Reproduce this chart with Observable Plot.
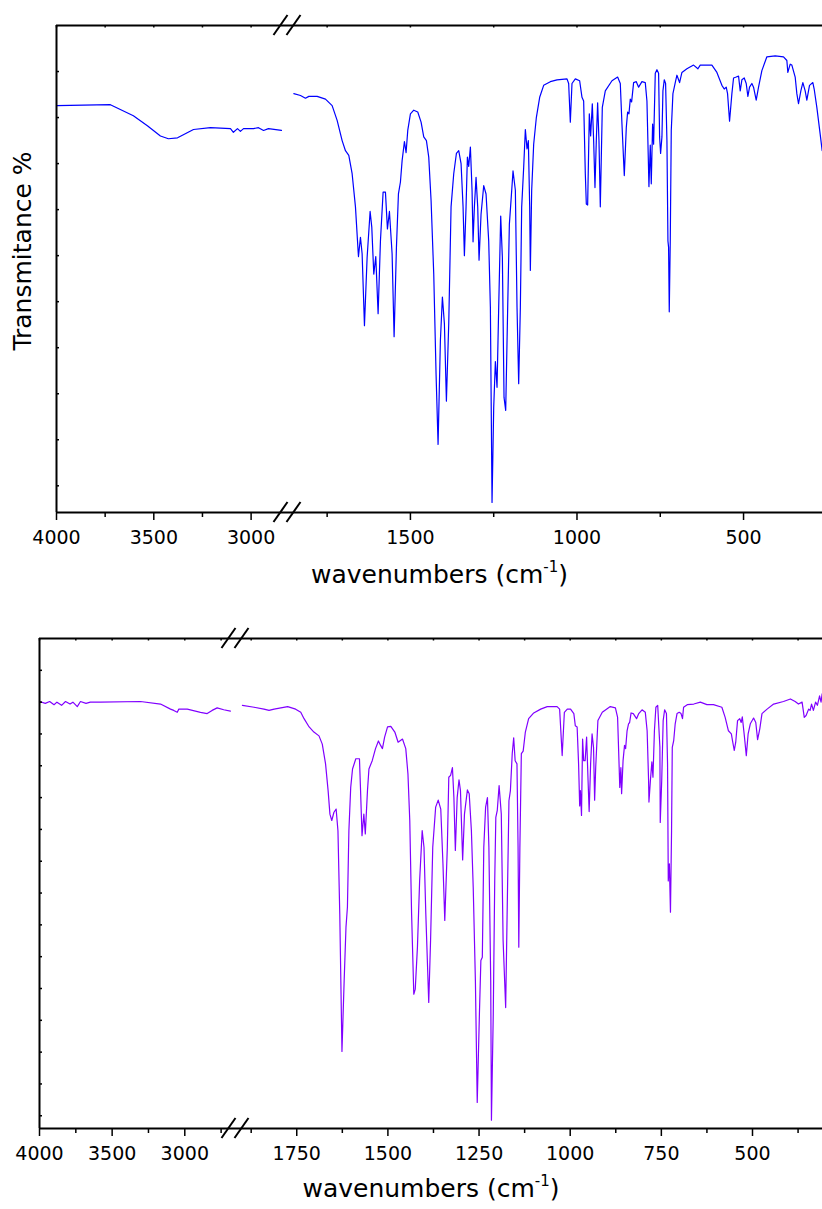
<!DOCTYPE html>
<html><head><meta charset="utf-8">
<script src="https://cdn.jsdelivr.net/npm/d3@7"></script>
<script src="https://cdn.jsdelivr.net/npm/@observablehq/plot@0.6"></script>
<style>body{margin:0;background:#fff;} svg{display:block}</style>
</head><body><div id="chart"></div>
<script>
// ---------- text ----------
const xTitleMain = "wavenumbers (cm";
const xTitleSup = "-1";
const xTitleEnd = ")";
const yTitle = "Transmitance %";

// ---------- tick values ----------
const topMajorTicks = [4000, 3500, 3000, 1500, 1000, 500];
const topMinorTicks = [3750, 3250, 1750, 1250, 750];
const topYTicks = [10, 15, 20, 25, 30, 35, 40, 45, 50, 55];
const botMajorTicks = [4000, 3500, 3000, 1750, 1500, 1250, 1000, 750, 500];
const botMinorTicks = [3750, 3250, 2750, 1875, 1625, 1375, 1125, 875, 625, 375];
const botYTicks = [5,10,15,20,25,30,35,40,45,50,55,60,65,70,75];

// ---------- broken x axes: [start, end of left part, start of right part, end] ----------
const topXBreaks = [4000, 2813, 1869, 263];
const botXBreaks = [4000, 2651, 1918, 308];
const topYDomain = [7.1, 60];
const botYDomain = [3, 80];

// ---------- spectrum 1 (top) [wavenumber, transmittance] ----------
const topLeft = [[4000,51.3],[3723,51.4],[3605,50.2],[3533,49.1],[3466,48.0],[3425,47.7],[3378,47.8],[3296,48.7],[3209,48.9],[3106,48.8],[3091,48.4],[3070,48.8],[3055,48.5],[3039,48.8],[2988,48.8],[2962,48.9],[2936,48.6],[2911,48.8],[2844,48.6]];
const topRight = [[1850,52.6],[1830,52.4],[1815,52.1],[1805,52.3],[1780,52.3],[1755,52.0],[1735,51.3],[1720,49.7],[1705,47.5],[1695,46.4],[1685,45.9],[1675,43.9],[1665,40.3],[1656,34.9],[1650,37.0],[1645,35.2],[1638,27.4],[1630,34.8],[1621,39.8],[1616,38.1],[1610,33.0],[1604,34.9],[1597,28.7],[1590,36.6],[1582,41.9],[1575,41.9],[1569,37.9],[1563,39.8],[1555,35.2],[1549,26.2],[1542,35.9],[1536,41.7],[1530,43.0],[1525,45.3],[1518,47.4],[1513,46.2],[1508,48.6],[1500,50.4],[1490,50.8],[1478,50.6],[1468,49.5],[1460,47.9],[1452,47.5],[1445,45.7],[1438,41.0],[1430,33.0],[1423,22.1],[1417,14.5],[1410,25.8],[1404,30.5],[1398,27.6],[1392,19.2],[1385,27.6],[1378,40.3],[1370,43.9],[1362,46.1],[1355,46.4],[1348,45.0],[1342,40.3],[1338,35.0],[1333,40.3],[1329,45.7],[1325,44.7],[1320,46.8],[1315,42.1],[1312,36.5],[1308,40.3],[1303,43.5],[1298,40.3],[1294,34.5],[1288,39.5],[1280,42.6],[1273,41.7],[1265,36.6],[1260,29.4],[1255,8.2],[1250,18.5],[1245,23.5],[1240,20.7],[1235,29.4],[1229,39.3],[1224,34.8],[1219,19.6],[1214,18.2],[1208,29.4],[1203,38.4],[1198,41.0],[1192,44.2],[1185,42.1],[1180,29.4],[1175,21.1],[1170,29.4],[1166,40.3],[1160,44.6],[1155,48.7],[1150,46.6],[1146,47.5],[1142,40.3],[1140,33.4],[1136,42.1],[1130,47.1],[1122,50.0],[1112,52.2],[1100,53.5],[1080,53.9],[1060,54.1],[1030,54.2],[1025,53.7],[1020,49.5],[1015,53.7],[1005,54.2],[992,54.0],[985,52.2],[980,51.8],[975,43.9],[972,40.6],[968,40.5],[963,50.4],[959,48.0],[954,51.5],[950,47.5],[946,42.4],[942,47.5],[938,51.6],[934,47.5],[930,40.3],[924,51.1],[915,52.9],[895,54.0],[878,54.4],[870,53.7],[865,49.3],[858,43.7],[852,48.9],[848,50.6],[844,50.4],[840,52.0],[836,51.7],[830,53.8],[822,53.9],[815,53.3],[805,53.9],[795,53.8],[790,51.8],[786,45.7],[784,42.5],[780,47.0],[777,42.8],[773,49.3],[770,47.1],[765,54.8],[760,55.2],[755,54.8],[752,47.9],[749,46.1],[745,47.9],[742,52.9],[738,54.1],[734,53.7],[730,47.5],[727,36.6],[725,35.9],[723,28.9],[720,36.6],[717,48.6],[712,52.6],[705,53.8],[700,54.6],[692,53.8],[685,54.9],[670,55.3],[650,55.7],[637,55.3],[630,55.7],[595,55.7],[580,54.9],[565,53.5],[558,53.1],[552,53.3],[548,52.6],[542,49.6],[535,52.6],[530,54.3],[522,54.4],[515,54.5],[510,52.9],[505,54.1],[498,54.3],[492,53.7],[487,52.3],[482,53.3],[475,53.7],[470,53.3],[462,51.9],[455,53.3],[445,55.1],[430,56.6],[405,56.7],[380,56.6],[370,56.2],[367,54.9],[360,55.8],[355,55.7],[345,54.4],[340,52.6],[335,51.5],[328,52.9],[322,53.8],[315,52.9],[310,51.9],[302,53.5],[292,53.8],[288,53.1],[280,51.1],[270,48.2],[264,46.4]];

// ---------- spectrum 2 (bottom) ----------
const botLeft = [[4000,70.1],[3960,69.8],[3930,70.1],[3900,69.6],[3880,70.0],[3848,69.5],[3821,70.1],[3790,69.7],[3770,70.0],[3740,69.3],[3718,70.1],[3680,69.8],[3650,70.0],[3580,70.0],[3305,70.1],[3167,69.7],[3098,68.9],[3076,68.7],[3052,68.4],[3041,68.9],[2983,68.9],[2892,68.4],[2846,68.2],[2812,68.7],[2777,69.1],[2732,68.8],[2686,68.6]];
const botRight = [[1899,69.5],[1867,69.2],[1840,68.9],[1826,68.7],[1812,68.9],[1775,69.3],[1753,68.9],[1739,68.4],[1730,67.4],[1716,66.1],[1703,65.3],[1689,64.7],[1680,63.4],[1671,60.3],[1664,56.1],[1659,52.4],[1654,51.4],[1648,52.7],[1642,53.2],[1637,49.8],[1632,36.7],[1626,15.1],[1620,26.2],[1615,34.6],[1611,37.8],[1607,49.8],[1602,56.6],[1597,59.5],[1588,61.1],[1578,61.1],[1575,56.1],[1571,49.0],[1566,52.4],[1562,49.3],[1556,56.1],[1552,59.5],[1543,60.8],[1534,62.7],[1526,63.9],[1520,63.2],[1515,62.7],[1509,64.5],[1501,66.1],[1492,66.2],[1481,65.3],[1472,63.7],[1460,64.2],[1451,62.7],[1445,58.7],[1440,51.4],[1435,36.7],[1429,24.1],[1425,24.9],[1419,31.5],[1413,41.9],[1406,49.8],[1401,47.2],[1396,36.7],[1388,22.8],[1383,32.5],[1377,47.2],[1369,53.5],[1362,54.6],[1355,53.2],[1349,44.6],[1344,35.7],[1337,47.2],[1333,58.2],[1328,58.5],[1323,59.7],[1319,55.0],[1315,46.7],[1310,55.0],[1305,57.8],[1301,56.1],[1295,45.2],[1290,52.4],[1282,56.2],[1277,55.6],[1271,49.8],[1266,40.9],[1260,26.2],[1255,7.1],[1249,21.0],[1245,29.4],[1241,29.9],[1237,47.2],[1232,53.5],[1227,55.0],[1223,47.2],[1218,26.2],[1216,4.3],[1211,21.0],[1207,41.9],[1204,51.9],[1200,53.0],[1195,56.9],[1189,52.4],[1184,32.5],[1177,22.0],[1173,36.7],[1168,54.5],[1164,56.1],[1159,61.9],[1155,64.4],[1151,60.8],[1146,60.3],[1143,47.2],[1141,31.5],[1138,47.2],[1134,61.9],[1129,62.3],[1123,65.3],[1114,67.4],[1100,68.3],[1081,68.9],[1063,69.3],[1036,69.3],[1029,68.9],[1022,61.6],[1016,68.4],[1008,68.9],[999,68.9],[990,68.2],[986,66.3],[981,66.1],[977,60.3],[974,53.7],[972,56.1],[969,52.2],[966,64.2],[963,60.8],[959,60.8],[955,64.5],[951,57.7],[948,52.8],[944,60.3],[940,65.0],[936,62.9],[933,54.6],[930,59.8],[924,67.1],[912,68.4],[890,69.3],[876,69.1],[870,67.6],[866,60.3],[864,56.6],[861,59.7],[859,55.6],[855,60.8],[851,63.2],[848,62.7],[844,65.5],[840,66.6],[837,66.8],[833,68.3],[827,68.2],[818,67.4],[812,68.2],[803,68.8],[794,68.4],[789,65.5],[785,57.7],[784,54.3],[780,57.7],[776,60.6],[773,58.2],[769,65.5],[765,69.2],[760,69.5],[754,62.9],[753,51.1],[749,57.7],[745,67.1],[741,68.8],[736,68.2],[733,60.3],[731,41.9],[728,44.6],[725,37.0],[722,49.8],[720,62.9],[716,64.0],[712,66.6],[707,68.2],[701,68.4],[696,68.2],[692,67.4],[689,69.2],[679,69.6],[661,69.7],[643,70.0],[625,69.6],[607,69.6],[584,69.2],[575,67.6],[566,65.5],[558,65.0],[555,64.0],[550,62.4],[546,63.7],[541,67.1],[535,67.4],[531,66.8],[528,67.7],[522,64.5],[517,61.6],[512,65.0],[506,66.6],[497,67.5],[491,66.8],[486,64.1],[480,65.8],[474,68.2],[460,68.9],[442,69.7],[415,70.1],[396,70.5],[383,70.1],[374,69.7],[364,70.0],[358,67.6],[353,67.9],[346,68.9],[342,68.7],[338,69.7],[333,68.7],[327,70.0],[322,69.5],[316,71.0],[312,70.0],[309,71.3]];

const NS = "http://www.w3.org/2000/svg";
const xTitleFull = xTitleMain + xTitleSup + xTitleEnd;

// break marks "//" drawn at the break position of the x scale, on both frame lines
function breakMarks(wBreak, yDomain) {
  return (index, scales) => {
    const g = document.createElementNS(NS, "g");
    const bx = scales.x(wBreak);
    for (const yv of yDomain) {
      const by = scales.y(yv);
      for (const off of [-6.5, 6.5]) {
        const l = document.createElementNS(NS, "line");
        l.setAttribute("x1", bx + off - 7); l.setAttribute("y1", by + 10);
        l.setAttribute("x2", bx + off + 7); l.setAttribute("y2", by - 10);
        l.setAttribute("stroke", "black"); l.setAttribute("stroke-width", 2);
        g.appendChild(l);
      }
    }
    return g;
  };
}

// turn the "-1" of the axis title into a real superscript
function superscriptTitle(svg) {
  svg.querySelectorAll("text").forEach(t => {
    if (t.textContent !== xTitleFull) return;
    t.textContent = "";
    const a = document.createElementNS(NS, "tspan"); a.textContent = xTitleMain;
    const b = document.createElementNS(NS, "tspan"); b.textContent = xTitleSup;
    b.setAttribute("dy", "-11"); b.setAttribute("font-size", "15");
    const c = document.createElementNS(NS, "tspan"); c.textContent = xTitleEnd;
    c.setAttribute("dy", "11");
    t.append(a, b, c);
  });
  return svg;
}

function panel(cfg) {
  const W = 822;
  const frameW = W - cfg.ml;
  const frameH = cfg.height - cfg.mt - cfg.mb;
  const marks = [
    Plot.line(cfg.left, {x: d => d[0], y: d => d[1], stroke: cfg.color, strokeWidth: 1.2}),
    Plot.line(cfg.right, {x: d => d[0], y: d => d[1], stroke: cfg.color, strokeWidth: 1.2}),
    Plot.ruleY(cfg.yDomain, {stroke: "black", strokeWidth: 2}),
    Plot.ruleX([cfg.xBreaks[0]], {stroke: "black", strokeWidth: 2}),
    Plot.tickY(cfg.yTicks, {y: d => d, insetRight: frameW - 3, stroke: "black", strokeWidth: 1.5}),
    Plot.tickX(cfg.major.concat(cfg.minor), {x: d => d, insetBottom: frameH - 2.5, stroke: "black", strokeWidth: 1.5}),
    Plot.axisX({ticks: cfg.major, tickSize: 8, tickPadding: 10, fontSize: 19, label: null, strokeWidth: 1.5, tickFormat: d => String(d)}),
    Plot.axisX({ticks: cfg.minor, tickSize: 5, tickPadding: 2, label: null, strokeWidth: 1.5, tickFormat: () => ""}),
    Plot.text([xTitleFull], {frameAnchor: "bottom", text: d => d, dy: cfg.titleDy, fontSize: 25, fill: "black", textAnchor: "middle"}),
    breakMarks(cfg.xBreaks[1], cfg.yDomain)
  ];
  if (cfg.yLabel) marks.push(Plot.text([yTitle], {frameAnchor: "left", text: d => d, rotate: -90, textAnchor: "middle", dx: -34, dy: -18, fontSize: 25, fill: "black"}));
  return superscriptTitle(Plot.plot({
    width: W, height: cfg.height,
    marginLeft: cfg.ml, marginRight: 0, marginTop: cfg.mt, marginBottom: cfg.mb,
    style: {fontFamily: "DejaVu Sans", background: "white", color: "black"},
    x: {type: "linear", domain: cfg.xBreaks, range: cfg.xRange},
    y: {domain: cfg.yDomain, axis: null},
    marks
  }));
}

const chart = document.getElementById("chart");
chart.appendChild(panel({
  height: 605, ml: 56, mt: 25, mb: 93,
  xBreaks: topXBreaks, xRange: [56, 287, 287, 822],
  yDomain: topYDomain, yTicks: topYTicks,
  major: topMajorTicks, minor: topMinorTicks,
  left: topLeft, right: topRight, color: "#0000ff",
  titleDy: 70, yLabel: true
}));
chart.appendChild(panel({
  height: 604, ml: 39, mt: 33, mb: 81,
  xBreaks: botXBreaks, xRange: [39, 235, 235, 822],
  yDomain: botYDomain, yTicks: botYTicks,
  major: botMajorTicks, minor: botMinorTicks,
  left: botLeft, right: botRight, color: "#8000ff",
  titleDy: 68, yLabel: false
}));
</script>
</body></html>
